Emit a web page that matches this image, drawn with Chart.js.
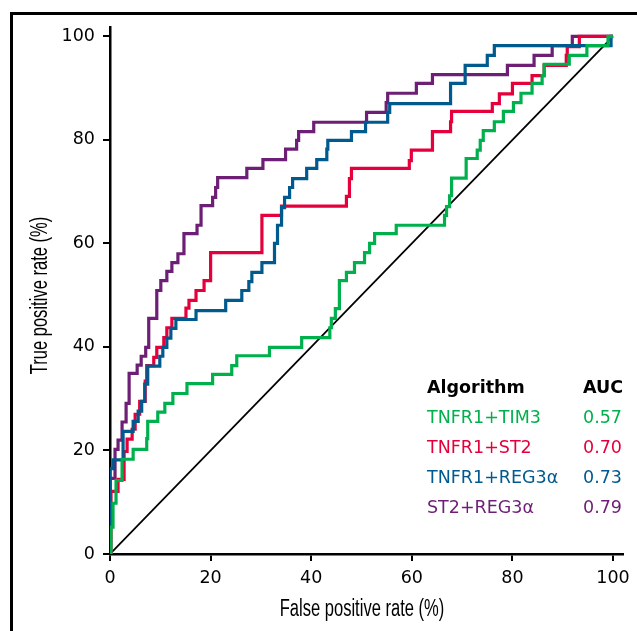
<!DOCTYPE html>
<html>
<head>
<meta charset="utf-8">
<script src="https://cdn.jsdelivr.net/npm/chart.js@4"></script>
<style>
  body { margin: 0; background: #fff; }
  #wrap { position: relative; width: 637px; height: 631px; overflow: hidden; }
  #frame { position: absolute; left: 10px; top: 12px; width: 700px; height: 700px;
           border-left: 3px solid #000; border-top: 3px solid #000; }
  .title { position: absolute; font-family: "Liberation Sans", Arial, sans-serif; font-size: 23px;
           line-height: 23px; height: 23px; width: 300px; text-align: center; white-space: nowrap;
           color: #000; transform-origin: center center; }
  .leg { position: absolute; font-family: "DejaVu Sans", sans-serif; font-size: 17.5px;
         line-height: 17.5px; white-space: nowrap; }
</style>
</head>
<body>
<div id="wrap">
  <canvas id="chart" width="637" height="631"></canvas>
  <div id="frame"></div>
  <div class="title" style="left:212px; top:596.5px; transform:scaleX(0.72)">False positive rate (%)</div>
  <div class="title" style="left:-111.3px; top:284px; transform:rotate(-90deg) scaleX(0.72)">True positive rate (%)</div>
  <div id="legend"></div>
</div>
<script>
// x/y ticks (%)
const xTicks = [0, 20, 40, 60, 80, 100]
const yTicks = [0, 20, 40, 60, 80, 100]

const seriesNames = ["TNFR1+TIM3", "TNFR1+ST2", "TNFR1+REG3α", "ST2+REG3α"]
const aucValues = ["0.57", "0.70", "0.73", "0.79"]
const seriesColors = ["#00b04c", "#e5003c", "#005a8e", "#6c1f74"]

// ROC points: false positive rate, true positive rate (%)
const tim3Fpr = [0, 0.2, 0.6, 1.2, 2.4, 4.6, 7.3, 7.5, 9.5, 10.9, 12.5, 15.3, 20.4, 24.2, 25.2, 31.7, 38.1, 43.7, 44.0, 44.8, 45.6, 47.0, 48.6, 50.6, 51.6, 52.6, 56.9, 66.5, 66.9, 67.5, 67.9, 70.8, 73.0, 73.6, 74.2, 76.4, 78.2, 80.2, 81.7, 83.9, 85.9, 86.3, 91.3, 94.8, 99.0, 100]
const tim3Tpr = [0, 5.2, 9.8, 14.2, 18.3, 20.2, 22.3, 25.6, 27.4, 29.1, 31.0, 32.9, 34.7, 36.4, 38.3, 39.9, 41.8, 43.7, 45.5, 47.4, 52.8, 54.4, 56.3, 58.2, 60.0, 61.9, 63.5, 65.4, 67.1, 69.2, 72.6, 76.4, 78.0, 79.9, 81.8, 83.5, 85.5, 87.2, 89.0, 90.9, 92.4, 94.6, 96.3, 98.2, 100, 100]

const st2Fpr = [0, 0.2, 1.6, 2.8, 3.4, 4.4, 5.0, 5.9, 7.0, 7.3, 8.7, 9.3, 10.7, 11.3, 12.3, 15.1, 15.7, 17.1, 18.7, 20.0, 30.2, 34.1, 47.0, 47.6, 48.0, 59.5, 59.9, 64.1, 67.7, 67.9, 76.0, 77.4, 80.0, 83.9, 86.3, 90.7, 90.9, 93.3, 100]
const st2Tpr = [0, 12.1, 14.4, 19.8, 22.2, 24.1, 27.0, 29.5, 33.4, 36.4, 38.0, 39.9, 41.8, 43.7, 45.5, 47.5, 49.0, 50.9, 52.8, 58.2, 65.4, 67.2, 69.1, 72.5, 74.5, 76.0, 78.0, 81.6, 83.5, 85.5, 87.0, 88.9, 90.9, 92.4, 94.4, 96.3, 98.0, 100, 100]

const reg3Fpr = [0, 0, 0.6, 2.6, 4.6, 5.6, 6.3, 6.9, 7.5, 9.9, 10.5, 11.3, 12.1, 13.1, 17.1, 23.0, 26.2, 27.6, 28.2, 30.2, 32.7, 33.3, 34.1, 34.7, 35.7, 36.3, 39.1, 41.1, 43.1, 43.3, 48.0, 50.8, 55.2, 55.6, 67.7, 70.6, 75.0, 76.4, 99.6, 100]
const reg3Tpr = [0, 16.5, 18.2, 23.7, 25.6, 27.6, 29.5, 32.8, 36.3, 38.2, 39.9, 41.7, 43.6, 45.3, 47.0, 49.0, 50.9, 52.6, 54.4, 56.3, 60.0, 63.5, 66.9, 68.9, 70.8, 72.5, 74.5, 76.2, 78.2, 79.9, 81.6, 83.4, 85.3, 87.0, 90.9, 94.4, 96.3, 98.2, 100, 100]

const st2reg3Fpr = [0, 0, 1.0, 1.6, 2.4, 3.2, 3.8, 5.4, 6.2, 7.1, 7.7, 9.3, 10.1, 11.3, 12.3, 13.5, 14.7, 17.3, 18.1, 20.4, 21.0, 21.4, 27.2, 30.4, 34.9, 37.1, 37.5, 40.5, 51.0, 54.9, 55.2, 60.9, 64.1, 79.0, 84.3, 87.9, 91.9, 100]
const st2reg3Tpr = [0, 14.6, 20.2, 22.0, 25.5, 29.1, 34.9, 36.5, 38.2, 39.9, 45.5, 50.9, 52.8, 54.6, 56.3, 58.0, 61.9, 63.5, 67.3, 68.9, 70.8, 72.7, 74.5, 76.2, 78.2, 79.9, 81.6, 83.4, 85.3, 87.2, 89.0, 90.9, 92.6, 94.4, 96.3, 98.2, 100, 100]

const chanceLine = [0, 100]

const toPoints = (xs, ys) => xs.map((x, i) => ({ x, y: ys[i] }))

const rocSets = [
  [tim3Fpr, tim3Tpr],
  [st2Fpr, st2Tpr],
  [reg3Fpr, reg3Tpr],
  [st2reg3Fpr, st2reg3Tpr]
]
// green drawn on top, then blue, red, purple
const drawOrder = [0, 2, 1, 3]

const datasets = rocSets.map(([xs, ys], i) => ({
  label: seriesNames[i],
  data: toPoints(xs, ys),
  borderColor: seriesColors[i],
  borderWidth: 3.2,
  stepped: "before",
  showLine: true,
  pointRadius: 0,
  order: drawOrder[i]
}))

datasets.push({
  label: "chance",
  data: toPoints(chanceLine, chanceLine),
  borderColor: "#000",
  borderWidth: 1.8,
  showLine: true,
  pointRadius: 0,
  order: 5
})

const tickFont = { family: "DejaVu Sans", size: 17.5 }
const axisBase = {
  type: "linear",
  min: 0,
  border: { color: "#000", width: 2.5 },
  grid: { drawOnChartArea: false, color: "#000", lineWidth: 2, tickLength: 7 },
}

new Chart(document.getElementById("chart"), {
  type: "scatter",
  data: { datasets },
  options: {
    responsive: false,
    animation: false,
    layout: { padding: { top: 27, right: 13, left: 0, bottom: 0 } },
    plugins: { legend: { display: false }, tooltip: { enabled: false } },
    scales: {
      x: {
        ...axisBase,
        max: 102,
        afterBuildTicks: s => { s.ticks = xTicks.map(v => ({ value: v })) },
        afterFit: s => { s.height = 77 },
        ticks: { color: "#000", font: tickFont, padding: 7, maxRotation: 0 }
      },
      y: {
        ...axisBase,
        max: 101.8,
        afterBuildTicks: s => { s.ticks = yTicks.map(v => ({ value: v })) },
        afterFit: s => { s.width = 110 },
        ticks: { color: "#000", font: tickFont, padding: 8 }
      }
    }
  }
})

// AUC table
const legend = document.getElementById("legend")
const addText = (txt, left, baseline, color, bold) => {
  const d = document.createElement("div")
  d.className = "leg"
  d.textContent = txt
  d.style.left = left + "px"
  d.style.top = (baseline - 14.8) + "px"
  d.style.color = color
  if (bold) d.style.fontWeight = "bold"
  legend.appendChild(d)
}
addText("Algorithm", 427, 393.7, "#000", true)
addText("AUC", 583, 393.7, "#000", true)
const rowBaselines = [423.7, 453.7, 483.5, 513.5]
seriesNames.forEach((name, i) => {
  addText(name, 427, rowBaselines[i], seriesColors[i])
  addText(aucValues[i], 583, rowBaselines[i], seriesColors[i])
})
</script>
</body>
</html>
